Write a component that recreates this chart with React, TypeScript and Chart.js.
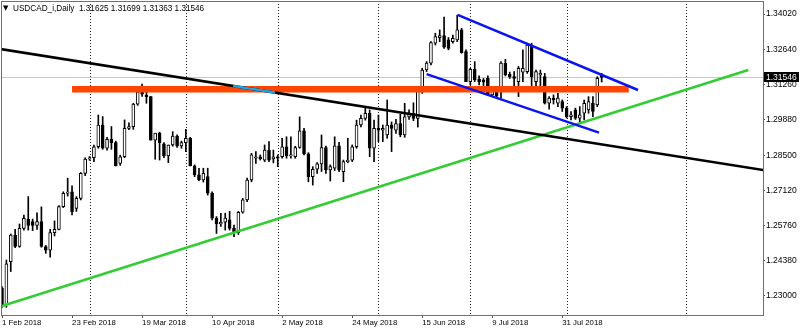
import React, { useEffect, useRef } from 'react';
import { Chart, registerables } from 'chart.js';

Chart.register(...registerables);

const SYMBOL = 'USDCAD_i,Daily';

const OPEN = [
  1.2330, 1.2265, 1.2434, 1.2537, 1.2493, 1.2564, 1.2599, 1.2590, 1.2575, 1.2590,
  1.2493, 1.2479, 1.2547, 1.2560, 1.2649, 1.2701, 1.2707, 1.2642, 1.2681, 1.2779,
  1.2835, 1.2840, 1.2883, 1.2968, 1.2877, 1.2912, 1.2899, 1.2818, 1.2844, 1.2955,
  1.2962, 1.3050, 1.3098, 1.3085, 1.3079, 1.2909, 1.2936, 1.2894, 1.2847, 1.2890,
  1.2925, 1.2886, 1.2899, 1.2916, 1.2808, 1.2773, 1.2753, 1.2766, 1.2701, 1.2604,
  1.2581, 1.2588, 1.2597, 1.2564, 1.2547, 1.2627, 1.2675, 1.2753, 1.2838, 1.2844,
  1.2831, 1.2870, 1.2835, 1.2844, 1.2844, 1.2883, 1.2847, 1.2844, 1.2880, 1.2945,
  1.2855, 1.2766, 1.2795, 1.2816, 1.2880, 1.2792, 1.2799, 1.2887, 1.2786, 1.2825,
  1.2831, 1.2883, 1.2968, 1.2994, 1.3014, 1.2877, 1.2955, 1.2948, 1.2929, 1.2968,
  1.2948, 1.2974, 1.2929, 1.3000, 1.3014, 1.2994, 1.3105, 1.3183, 1.3210, 1.3288,
  1.3310, 1.3318, 1.3301, 1.3294, 1.3301, 1.3340, 1.3255, 1.3138, 1.3186, 1.3148,
  1.3144, 1.3151, 1.3086, 1.3099, 1.3112, 1.3210, 1.3166, 1.3157, 1.3138, 1.3175,
  1.3177, 1.3281, 1.3138, 1.3164, 1.3157, 1.3053, 1.3073, 1.3053, 1.3060, 1.3034,
  1.3001, 1.3027, 1.2995, 1.3014, 1.3027, 1.3053, 1.3047, 1.31625,
];
const HIGH = [
  1.2336, 1.2440, 1.2542, 1.2560, 1.2581, 1.2616, 1.2688, 1.2600, 1.2625, 1.2648,
  1.2497, 1.2560, 1.2593, 1.2653, 1.2707, 1.2760, 1.2730, 1.2688, 1.2782, 1.2840,
  1.2845, 1.2890, 1.3007, 1.3001, 1.2920, 1.2962, 1.2905, 1.2850, 1.2988, 1.2977,
  1.3053, 1.3100, 1.3128, 1.3110, 1.3080, 1.2936, 1.2940, 1.2899, 1.2890, 1.2942,
  1.2930, 1.2905, 1.2951, 1.2920, 1.2812, 1.2799, 1.2799, 1.2799, 1.2707, 1.2610,
  1.2623, 1.2623, 1.2630, 1.2577, 1.2630, 1.2681, 1.2760, 1.2857, 1.2864, 1.2851,
  1.2890, 1.2903, 1.2870, 1.2851, 1.2916, 1.2922, 1.2922, 1.2885, 1.3000, 1.2955,
  1.2860, 1.2805, 1.2821, 1.2929, 1.2886, 1.2812, 1.2922, 1.2900, 1.2831, 1.2916,
  1.2890, 1.2987, 1.3007, 1.3040, 1.3027, 1.2987, 1.3007, 1.2968, 1.3066, 1.2980,
  1.2990, 1.3010, 1.3053, 1.3027, 1.3055, 1.3110, 1.3190, 1.3216, 1.3294, 1.3327,
  1.3340, 1.3390, 1.3310, 1.3320, 1.3398, 1.3346, 1.3262, 1.3190, 1.3216, 1.3160,
  1.3150, 1.3160, 1.3118, 1.3112, 1.3216, 1.3225, 1.3175, 1.3177, 1.3197, 1.3262,
  1.3288, 1.3288, 1.3183, 1.3183, 1.3170, 1.3079, 1.3086, 1.3092, 1.3066, 1.3040,
  1.3021, 1.3034, 1.3040, 1.3066, 1.3079, 1.3079, 1.3157, 1.31699,
];
const LOW = [
  1.2255, 1.2255, 1.2395, 1.2488, 1.2490, 1.2557, 1.2557, 1.2555, 1.2560, 1.2490,
  1.2466, 1.2451, 1.2534, 1.2558, 1.2645, 1.2690, 1.2616, 1.2630, 1.2675, 1.2770,
  1.2830, 1.2825, 1.2877, 1.2873, 1.2870, 1.2873, 1.2808, 1.2810, 1.2840, 1.2950,
  1.2951, 1.3045, 1.3080, 1.3053, 1.2909, 1.2834, 1.2831, 1.2840, 1.2821, 1.2885,
  1.2880, 1.2877, 1.2864, 1.2808, 1.2766, 1.2750, 1.2745, 1.2694, 1.2597, 1.2544,
  1.2571, 1.2557, 1.2557, 1.2531, 1.2540, 1.2623, 1.2668, 1.2746, 1.2818, 1.2831,
  1.2825, 1.2825, 1.2820, 1.2805, 1.2838, 1.2838, 1.2838, 1.2838, 1.2877, 1.2851,
  1.2746, 1.2733, 1.2779, 1.2786, 1.2779, 1.2749, 1.2790, 1.2786, 1.2746, 1.2820,
  1.2825, 1.2877, 1.2961, 1.2987, 1.2844, 1.2825, 1.2903, 1.2903, 1.2916, 1.2864,
  1.2935, 1.2922, 1.2920, 1.2990, 1.2985, 1.2960, 1.3092, 1.3177, 1.3203, 1.3281,
  1.3294, 1.3268, 1.3262, 1.3288, 1.3294, 1.3249, 1.3138, 1.3125, 1.3138, 1.3125,
  1.3118, 1.3083, 1.3079, 1.3075, 1.3073, 1.3160, 1.3150, 1.3118, 1.3079, 1.3138,
  1.3170, 1.3120, 1.3112, 1.3118, 1.3050, 1.3030, 1.3050, 1.3040, 1.3021, 1.2995,
  1.2988, 1.2990, 1.2975, 1.2988, 1.3014, 1.3001, 1.3040, 1.31363,
];
const CLOSE = [
  1.2265, 1.2425, 1.2538, 1.2493, 1.2564, 1.2603, 1.2575, 1.2575, 1.2590, 1.2493,
  1.2479, 1.2547, 1.2560, 1.2649, 1.2701, 1.2706, 1.2629, 1.2681, 1.2779, 1.2835,
  1.2840, 1.2883, 1.2968, 1.2877, 1.2912, 1.2899, 1.2808, 1.2844, 1.2955, 1.2962,
  1.3050, 1.3098, 1.3089, 1.3079, 1.2909, 1.2936, 1.2899, 1.2847, 1.2890, 1.2925,
  1.2886, 1.2899, 1.2916, 1.2808, 1.2773, 1.2753, 1.2779, 1.2701, 1.2604, 1.2581,
  1.2588, 1.2604, 1.2564, 1.2547, 1.2627, 1.2675, 1.2753, 1.2851, 1.2844, 1.2835,
  1.2870, 1.2831, 1.2844, 1.2838, 1.2883, 1.2847, 1.2851, 1.2880, 1.2945, 1.2855,
  1.2766, 1.2795, 1.2816, 1.2880, 1.2792, 1.2805, 1.2887, 1.2792, 1.2825, 1.2831,
  1.2883, 1.2968, 1.2994, 1.3014, 1.2877, 1.2955, 1.2948, 1.2955, 1.2968, 1.2955,
  1.2974, 1.2929, 1.3000, 1.3014, 1.2994, 1.3105, 1.3183, 1.3210, 1.3290, 1.3314,
  1.3318, 1.3272, 1.3268, 1.3307, 1.3340, 1.3251, 1.3138, 1.3186, 1.3144, 1.3138,
  1.3136, 1.3086, 1.3110, 1.3081, 1.3210, 1.3164, 1.3157, 1.3150, 1.3190, 1.3190,
  1.3281, 1.3157, 1.3177, 1.3170, 1.3053, 1.3073, 1.3066, 1.3073, 1.3034, 1.3001,
  1.3008, 1.2995, 1.3008, 1.3053, 1.3060, 1.3021, 1.3151, 1.31546,
];

const DATE_TICKS = [0, 16, 32, 48, 64, 80, 96, 112, 128];
const DATE_LABELS = [
  '1 Feb 2018', '23 Feb 2018', '19 Mar 2018', '10 Apr 2018', '2 May 2018',
  '24 May 2018', '15 Jun 2018', '9 Jul 2018', '31 Jul 2018',
];
const PRICE_TICKS = [1.23, 1.2438, 1.2576, 1.2712, 1.285, 1.2988, 1.3126, 1.3264, 1.3402];
const MONTH_SEPARATORS = [20, 42, 63, 86, 107, 129, 156.3];

const X_MIN = -0.23;
const X_MAX = 173.86;
const Y_MIN = 1.2225;
const Y_MAX = 1.3453;

const RESISTANCE = [{ x: 16, y: 1.3108 }, { x: 143.2, y: 1.3108 }];
const BLACK_TREND = [{ x: -0.3, y: 1.3265 }, { x: 174, y: 1.2792 }];
const CYAN_TREND = [{ x: 52.8, y: 1.3121 }, { x: 62.4, y: 1.3095 }];
const GREEN_TREND = [{ x: 0, y: 1.2260 }, { x: 170.5, y: 1.3183 }];
const CHANNEL_UPPER = [{ x: 104.1, y: 1.3399 }, { x: 145.3, y: 1.3105 }];
const CHANNEL_LOWER = [{ x: 97, y: 1.3167 }, { x: 136.4, y: 1.2938 }];

const FONT = '"Liberation Sans", Arial, sans-serif';

const overlay = {
  id: 'overlay',
  beforeDatasetsDraw(chart: any) {
    const { ctx, chartArea: a, scales } = chart;
    const x = scales.x;
    const y = scales.y;
    ctx.save();
    const py = Math.round(y.getPixelForValue(CLOSE[CLOSE.length - 1])) + 0.5;
    ctx.strokeStyle = '#c8c8c8';
    ctx.lineWidth = 1;
    ctx.beginPath();
    ctx.moveTo(a.left, py);
    ctx.lineTo(a.right, py);
    ctx.stroke();
    ctx.strokeStyle = '#202020';
    ctx.setLineDash([1, 2]);
    for (const m of MONTH_SEPARATORS) {
      const px = Math.round(x.getPixelForValue(m)) + 0.5;
      ctx.beginPath();
      ctx.moveTo(px, a.top);
      ctx.lineTo(px, a.bottom);
      ctx.stroke();
    }
    ctx.restore();
  },
  afterDraw(chart: any) {
    const { ctx, chartArea: a, scales } = chart;
    const y = scales.y;
    ctx.save();
    ctx.strokeStyle = '#707070';
    ctx.lineWidth = 1;
    ctx.strokeRect(a.left + 0.5, a.top + 0.5, a.right - a.left, a.bottom - a.top);
    ctx.fillStyle = '#000';
    ctx.textBaseline = 'alphabetic';
    ctx.textAlign = 'left';
    ctx.font = '7px "DejaVu Sans", sans-serif';
    ctx.fillText('▼', 3, 10);
    ctx.font = '8.2px ' + FONT;
    const last = CLOSE.length - 1;
    const header = SYMBOL + '  ' + OPEN[last].toFixed(5) + ' ' + HIGH[last].toFixed(5) + ' ' +
      LOW[last].toFixed(5) + ' ' + CLOSE[last].toFixed(5);
    ctx.fillText(header, 13, 11);
    const py = Math.round(y.getPixelForValue(CLOSE[last]));
    ctx.fillStyle = '#000';
    ctx.fillRect(a.right + 1, py - 5, 800 - a.right - 2, 10);
    ctx.fillStyle = '#fff';
    ctx.textBaseline = 'middle';
    ctx.font = '8.5px ' + FONT;
    ctx.fillText(CLOSE[last].toFixed(5), a.right + 3, py + 0.5);
    ctx.restore();
  },
};

export default function App() {
  const ref = useRef<HTMLCanvasElement | null>(null);

  useEffect(() => {
    document.body.style.margin = '0';
    const canvas = ref.current;
    if (!canvas) return;

    const idx = OPEN.map((_, i) => i);
    const line = (data: any[], color: string, width: number, order: number) => ({
      type: 'line' as const,
      data,
      borderColor: color,
      backgroundColor: color,
      borderWidth: width,
      pointRadius: 0,
      tension: 0,
      fill: false,
      clip: 0,
      order,
      borderCapStyle: 'butt',
    });

    const chart = new Chart(canvas, {
      type: 'bar',
      data: {
        datasets: [
          {
            type: 'bar',
            data: idx.map((i) => ({ x: i, y: [LOW[i], HIGH[i]] })),
            backgroundColor: '#000',
            borderWidth: 0,
            barThickness: 1,
            grouped: false,
            order: 10,
          } as any,
          {
            type: 'bar',
            data: idx.map((i) => ({ x: i, y: [OPEN[i], CLOSE[i]] })),
            backgroundColor: idx.map((i) => (CLOSE[i] >= OPEN[i] ? '#ffffff' : '#000000')),
            borderColor: '#000',
            borderWidth: 1,
            borderSkipped: false,
            barThickness: 3,
            minBarLength: 1,
            grouped: false,
            order: 9,
          } as any,
          line(RESISTANCE, '#ff4500', 6.5, 4) as any,
          line(GREEN_TREND, '#32cd32', 2.5, 3) as any,
          line(CHANNEL_UPPER, '#0a14f0', 2.5, 2) as any,
          line(CHANNEL_LOWER, '#0a14f0', 2.5, 2) as any,
          line(BLACK_TREND, '#000000', 2.5, 1) as any,
          line(CYAN_TREND, '#1ea3e6', 2.5, 0) as any,
        ],
      },
      options: {
        responsive: false,
        animation: false,
        events: [],
        layout: { padding: { left: 1, top: 1, right: 0, bottom: 0 } },
        plugins: { legend: { display: false }, tooltip: { enabled: false }, title: { display: false } },
        scales: {
          x: {
            type: 'linear',
            min: X_MIN,
            max: X_MAX,
            offset: false,
            afterFit: (s: any) => {
              s.height = 15;
              s.paddingLeft = 0;
              s.paddingRight = 0;
              s.paddingTop = 0;
              s.paddingBottom = 0;
            },
            afterBuildTicks: (s: any) => { s.ticks = DATE_TICKS.map((v) => ({ value: v })); },
            grid: { display: true, drawOnChartArea: false, drawTicks: true, tickLength: 3, color: '#555', offset: false },
            border: { display: false },
            ticks: {
              autoSkip: false,
              maxRotation: 0,
              minRotation: 0,
              align: 'start',
              padding: 0,
              color: '#000',
              font: { family: FONT, size: 7.8 },
              callback: (v: any) => {
                const k = DATE_TICKS.indexOf(Number(v));
                return k >= 0 ? DATE_LABELS[k] : '';
              },
            },
          },
          y: {
            type: 'linear',
            position: 'right',
            min: Y_MIN,
            max: Y_MAX,
            beginAtZero: false,
            afterFit: (s: any) => {
              s.width = 37;
              s.paddingTop = 0;
              s.paddingBottom = 0;
              s.paddingLeft = 0;
              s.paddingRight = 0;
            },
            afterBuildTicks: (s: any) => { s.ticks = PRICE_TICKS.map((v) => ({ value: v })); },
            grid: { display: true, drawOnChartArea: false, drawTicks: true, tickLength: 2, color: '#555' },
            border: { display: false },
            ticks: {
              padding: 1,
              color: '#000',
              font: { family: FONT, size: 8.5 },
              callback: (v: any) => Number(v).toFixed(5),
            },
          },
        },
      } as any,
      plugins: [overlay],
    });

    return () => chart.destroy();
  }, []);

  return (
    <div style={{ position: 'fixed', left: 0, top: 0, width: 800, height: 330, background: '#fff' }}>
      <canvas ref={ref} width={800} height={330} style={{ display: 'block', width: 800, height: 330 }} />
    </div>
  );
}
